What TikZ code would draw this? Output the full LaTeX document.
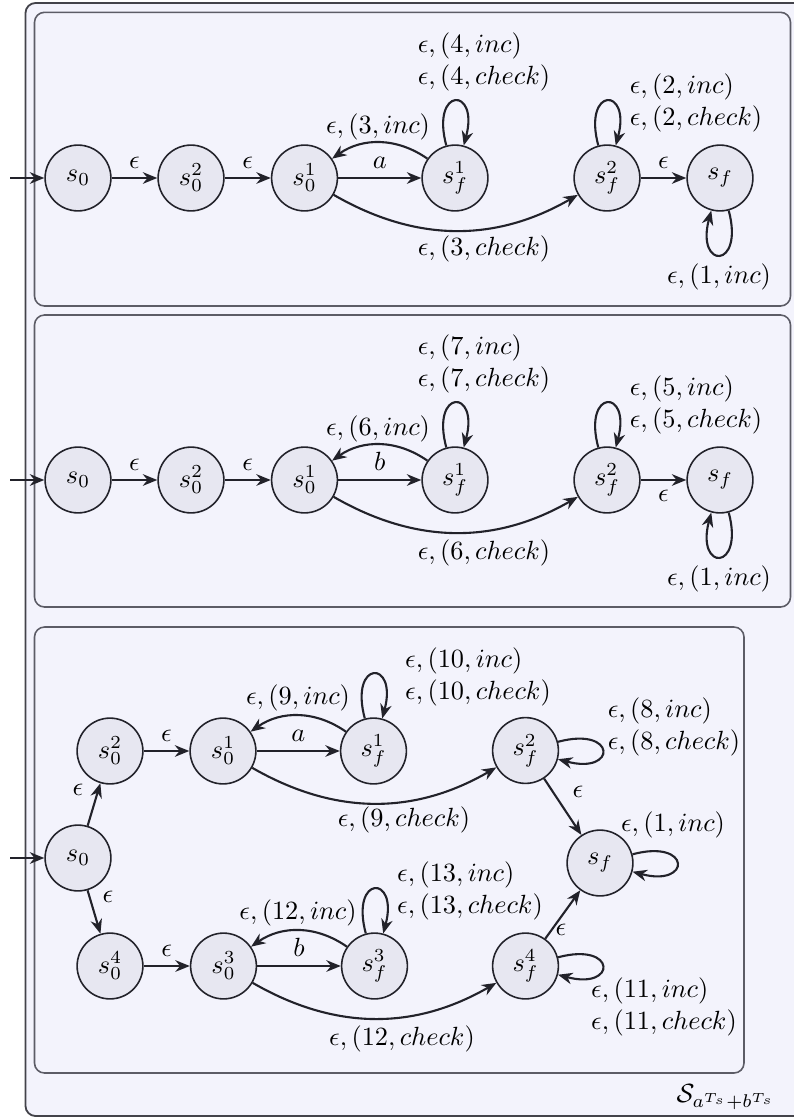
\documentclass[tikz,border=0pt]{standalone}
\usetikzlibrary{arrows.meta}
\definecolor{boxfill}{HTML}{F3F3FC}
\definecolor{nodefill}{HTML}{E7E7F1}
\definecolor{boxline}{HTML}{5C5C66}
\definecolor{ink}{HTML}{22222A}
\begin{document}
\begin{tikzpicture}[x=0.38pt,y=-0.38pt,
  state/.style={circle,draw=ink,fill=nodefill,line width=0.6pt,minimum size=25pt,inner sep=0pt},
  tr/.style={draw=ink,line width=0.8pt,-{Stealth[length=5.5pt,width=4.4pt]}},
  lbl/.style={align=left,inner sep=0pt},
  panel/.style={draw=boxline,fill=boxfill,rounded corners=3.8pt,line width=0.6pt}]
\useasboundingbox (0,0) rectangle (793,1117);
\draw[fill=boxfill,draw=ink!85,rounded corners=3.8pt,line width=0.7pt] (25.5,3) rectangle (830,1116);
\draw[panel] (34.5,12.3) rectangle (790.5,306);
\draw[panel] (34.5,315) rectangle (790.5,607);
\draw[panel] (34.5,627) rectangle (744,1073);

% ---------- panel 1 ----------
\node[state] (a0)  at (78,178)  {$s_0$};
\node[state] (a02) at (191,178) {$s_0^2$};
\node[state] (a01) at (304.5,178) {$s_0^1$};
\node[state] (af1) at (455,178) {$s_f^1$};
\node[state] (af2) at (607,178) {$s_f^2$};
\node[state] (af)  at (720,178) {$s_f$};
\coordinate (ai) at (10,178);
\draw[tr] (ai) -- (a0);
\draw[tr] (a0) -- node[above] {$\epsilon$} (a02);
\draw[tr] (a02) -- node[above] {$\epsilon$} (a01);
\draw[tr] (a01) -- node[above] {$a$} (af1);
\draw[tr] (af1) to[bend right=35] (a01);
\path (af1) edge[tr,loop above,looseness=9] (af1);
\draw[tr] (a01) to[bend right=30] (af2);
\path (af2) edge[tr,loop above,looseness=9] (af2);
\draw[tr] (af2) -- node[above] {$\epsilon$} (af);
\path (af) edge[tr,loop below,looseness=9] (af);
\node[lbl] (la3) at (378,127) {$\epsilon,(3,inc)$};
\node[lbl] (la4) at (484,62) {$\epsilon,(4,inc)$\\$\epsilon,(4,check)$};
\node[lbl] (la3c) at (484,249) {$\epsilon,(3,check)$};
\node[lbl] (la2) at (696,103) {$\epsilon,(2,inc)$\\$\epsilon,(2,check)$};
\node[lbl] (la1) at (719,277) {$\epsilon,(1,inc)$};

% ---------- panel 2 ----------
\node[state] (c0)  at (78,480)  {$s_0$};
\node[state] (c02) at (191,480) {$s_0^2$};
\node[state] (c01) at (304.5,480) {$s_0^1$};
\node[state] (cf1) at (455,480) {$s_f^1$};
\node[state] (cf2) at (607,480) {$s_f^2$};
\node[state] (cf)  at (720,480) {$s_f$};
\coordinate (ci) at (10,480);
\draw[tr] (ci) -- (c0);
\draw[tr] (c0) -- node[above] {$\epsilon$} (c02);
\draw[tr] (c02) -- node[above] {$\epsilon$} (c01);
\draw[tr] (c01) -- node[above] {$b$} (cf1);
\draw[tr] (cf1) to[bend right=35] (c01);
\path (cf1) edge[tr,loop above,looseness=9] (cf1);
\draw[tr] (c01) to[bend right=30] (cf2);
\path (cf2) edge[tr,loop above,looseness=9] (cf2);
\draw[tr] (cf2) -- node[below] {$\epsilon$} (cf);
\path (cf) edge[tr,loop below,looseness=9] (cf);
\node[lbl] (lc6) at (378,429) {$\epsilon,(6,inc)$};
\node[lbl] (lc7) at (484,364) {$\epsilon,(7,inc)$\\$\epsilon,(7,check)$};
\node[lbl] (lc6c) at (484,553) {$\epsilon,(6,check)$};
\node[lbl] (lc5) at (696,405) {$\epsilon,(5,inc)$\\$\epsilon,(5,check)$};
\node[lbl] (lc1) at (719,579) {$\epsilon,(1,inc)$};

% ---------- panel 3 ----------
\node[state] (b0)  at (78,858)  {$s_0$};
\node[state] (b02) at (110,751) {$s_0^2$};
\node[state] (b01) at (223,751) {$s_0^1$};
\node[state] (bf1) at (373.5,751) {$s_f^1$};
\node[state] (bf2) at (525.5,750.5) {$s_f^2$};
\node[state] (bf)  at (600,863) {$s_f$};
\node[state] (b04) at (110,966) {$s_0^4$};
\node[state] (b03) at (223.5,966) {$s_0^3$};
\node[state] (bf3) at (374.5,966) {$s_f^3$};
\node[state] (bf4) at (525.5,966) {$s_f^4$};
\coordinate (bi) at (10,858);
\draw[tr] (bi) -- (b0);
\draw[tr] (b0) -- (b02);
\draw[tr] (b0) -- (b04);
\draw[tr] (b02) -- node[above] {$\epsilon$} (b01);
\draw[tr] (b01) -- node[above] {$a$} (bf1);
\draw[tr] (bf1) to[bend right=35] (b01);
\path (bf1) edge[tr,loop above,looseness=9] (bf1);
\draw[tr] (b01) to[bend right=30] (bf2);
\path (bf2) edge[tr,loop right,looseness=9] (bf2);
\draw[tr] (bf2) -- (bf);
\path (bf) edge[tr,loop right,looseness=9] (bf);
\draw[tr] (b04) -- node[above] {$\epsilon$} (b03);
\draw[tr] (b03) -- node[above] {$b$} (bf3);
\draw[tr] (bf3) to[bend right=35] (b03);
\path (bf3) edge[tr,loop above,looseness=9] (bf3);
\draw[tr] (b03) to[bend right=30] (bf4);
\path (bf4) edge[tr,loop right,looseness=9] (bf4);
\draw[tr] (bf4) -- (bf);
\node[lbl] (le1) at (78,790) {$\epsilon$};
\node[lbl] (le2) at (108,897) {$\epsilon$};
\node[lbl] (le3) at (578,792) {$\epsilon$};
\node[lbl] (le4) at (561,930) {$\epsilon$};
\node[lbl] (lb9) at (298,698) {$\epsilon,(9,inc)$};
\node[lbl] (lb10) at (478,677) {$\epsilon,(10,inc)$\\$\epsilon,(10,check)$};
\node[lbl] (lb9c) at (404,820) {$\epsilon,(9,check)$};
\node[lbl] (lb8) at (674,727) {$\epsilon,(8,inc)$\\$\epsilon,(8,check)$};
\node[lbl] (lb1) at (673,825) {$\epsilon,(1,inc)$};
\node[lbl] (lb12) at (298,913) {$\epsilon,(12,inc)$};
\node[lbl] (lb13) at (470,891) {$\epsilon,(13,inc)$\\$\epsilon,(13,check)$};
\node[lbl] (lb12c) at (402,1039) {$\epsilon,(12,check)$};
\node[lbl] (lb11) at (664,1007) {$\epsilon,(11,inc)$\\$\epsilon,(11,check)$};
\node[lbl] (ltitle) at (726,1097) {$\mathcal{S}_{a^{T_s}+b^{T_s}}$};
\end{tikzpicture}
\end{document}
